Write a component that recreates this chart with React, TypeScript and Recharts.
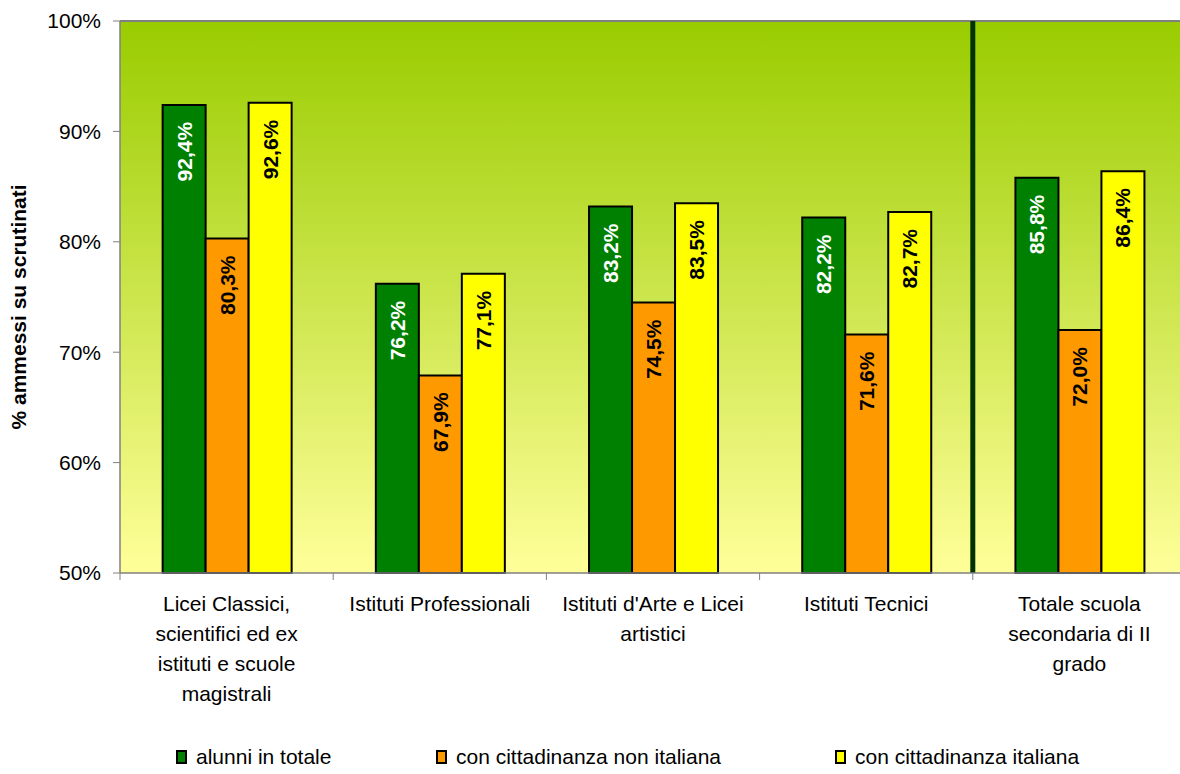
import React from 'react';
import {
  BarChart,
  Bar,
  XAxis,
  YAxis,
  CartesianGrid,
  ReferenceLine,
  LabelList,
  Legend,
  Label,
} from 'recharts';

const categories = [
  'Licei Classici, scientifici ed ex istituti e scuole magistrali',
  'Istituti Professionali',
  "Istituti d'Arte e Licei artistici",
  'Istituti Tecnici',
  'Totale scuola secondaria di II grado',
];

const categoryLines = [
  ['Licei Classici,', 'scientifici ed ex', 'istituti e scuole', 'magistrali'],
  ['Istituti Professionali'],
  ["Istituti d'Arte e Licei", 'artistici'],
  ['Istituti Tecnici'],
  ['Totale scuola', 'secondaria di II', 'grado'],
];

const alunniTotale = [92.4, 76.2, 83.2, 82.2, 85.8];
const nonItaliana = [80.3, 67.9, 74.5, 71.6, 72.0];
const italiana = [92.6, 77.1, 83.5, 82.7, 86.4];

const yTicks = [50, 60, 70, 80, 90, 100];

const SERIES = [
  { key: 'totale', name: 'alunni in totale', color: '#008000', labelColor: '#ffffff' },
  { key: 'nonIt', name: 'con cittadinanza non italiana', color: '#FF9900', labelColor: '#000000' },
  { key: 'it', name: 'con cittadinanza italiana', color: '#FFFF00', labelColor: '#000000' },
];

const data = categories.map((name, i) => ({
  name,
  totale: alunniTotale[i],
  nonIt: nonItaliana[i],
  it: italiana[i],
}));

const FONT = 'Arial, "Liberation Sans", sans-serif';

const fmt = (v: number) => `${v.toFixed(1).replace('.', ',')}%`;

const CategoryTick = (props: any) => {
  const { x, y, payload, index } = props;
  const half = payload && payload.offset ? payload.offset : 106.6;
  const lines = categoryLines[index] || [String(payload.value)];
  return (
    <g>
      <line x1={x - half} y1={y - 8} x2={x - half} y2={y - 1} stroke="#808080" strokeWidth={1} />
      <text x={x} y={y + 30} textAnchor="middle" fontSize={21} fill="#000" fontFamily={FONT}>
        {lines.map((l: string, i: number) => (
          <tspan key={i} x={x} dy={i === 0 ? 0 : 30}>
            {l}
          </tspan>
        ))}
      </text>
    </g>
  );
};

const makeBarLabel = (color: string) => (props: any) => {
  const { x, y, width, value } = props;
  const cx = x + width / 2;
  const ty = y + 17;
  return (
    <text
      x={cx}
      y={ty}
      transform={`rotate(-90, ${cx}, ${ty})`}
      textAnchor="end"
      dominantBaseline="central"
      fontSize={21}
      fontWeight="bold"
      fill={color}
      fontFamily={FONT}
    >
      {fmt(value)}
    </text>
  );
};

const LegendContent = () => {
  const lefts = [176, 436, 835];
  return (
    <div style={{ position: 'relative', width: 1180, height: 24, fontFamily: FONT }}>
      {SERIES.map((s, i) => (
        <div
          key={s.key}
          style={{
            position: 'absolute',
            left: lefts[i],
            top: 0,
            display: 'flex',
            alignItems: 'center',
            height: 24,
            fontSize: 21,
            color: '#000',
            whiteSpace: 'nowrap',
          }}
        >
          <span
            style={{
              display: 'inline-block',
              width: 7,
              height: 10,
              background: s.color,
              border: '2px solid #000',
              marginRight: 9,
            }}
          />
          {s.name}
        </div>
      ))}
    </div>
  );
};

export default function App() {
  return (
    <div
      style={{
        position: 'fixed',
        left: 0,
        top: 0,
        width: 1180,
        height: 774,
        overflow: 'hidden',
        background: '#fff',
        fontFamily: FONT,
      }}
    >
      <BarChart
        width={1210}
        height={774}
        data={data}
        margin={{ top: 21, right: 24, bottom: 5, left: 0 }}
        barCategoryGap="20%"
        barGap={0}
      >
        <defs>
          <linearGradient id="bgGrad" x1="0" y1="0" x2="0" y2="1">
            <stop offset="0%" stopColor="#99CC00" />
            <stop offset="100%" stopColor="#FFFF99" />
          </linearGradient>
        </defs>
        <CartesianGrid fill="url(#bgGrad)" fillOpacity={1} horizontal={false} vertical={false} stroke="none" />
        <XAxis
          dataKey="name"
          interval={0}
          height={172}
          tickLine={false}
          axisLine={{ stroke: '#808080', strokeWidth: 1.5 }}
          tick={<CategoryTick />}
        />
        <YAxis
          domain={[50, 100]}
          ticks={yTicks}
          width={120}
          tickFormatter={(v: number) => `${v}%`}
          tick={{ fontSize: 21, fill: '#000', fontFamily: FONT }}
          tickSize={7}
          tickMargin={12}
          tickLine={{ stroke: '#808080' }}
          axisLine={{ stroke: '#808080', strokeWidth: 1.5 }}
        >
          <Label
            content={() => (
              <text
                x={18}
                y={307}
                transform="rotate(-90, 18, 307)"
                textAnchor="middle"
                dominantBaseline="central"
                fontSize={21}
                fontWeight="bold"
                fill="#000"
                fontFamily={FONT}
              >
                % ammessi su scrutinati
              </text>
            )}
          />
        </YAxis>
        <ReferenceLine y={100} stroke="#808080" strokeWidth={2} />
        {SERIES.map((s) => (
          <Bar
            key={s.key}
            dataKey={s.key}
            name={s.name}
            fill={s.color}
            stroke="#000"
            strokeWidth={2}
            isAnimationActive={false}
          >
            <LabelList dataKey={s.key} content={makeBarLabel(s.labelColor)} />
          </Bar>
        ))}
        <ReferenceLine x={categories[3]} position="end" stroke="#003300" strokeWidth={5} />
        <Legend verticalAlign="bottom" height={24} content={<LegendContent />} />
      </BarChart>
    </div>
  );
}
